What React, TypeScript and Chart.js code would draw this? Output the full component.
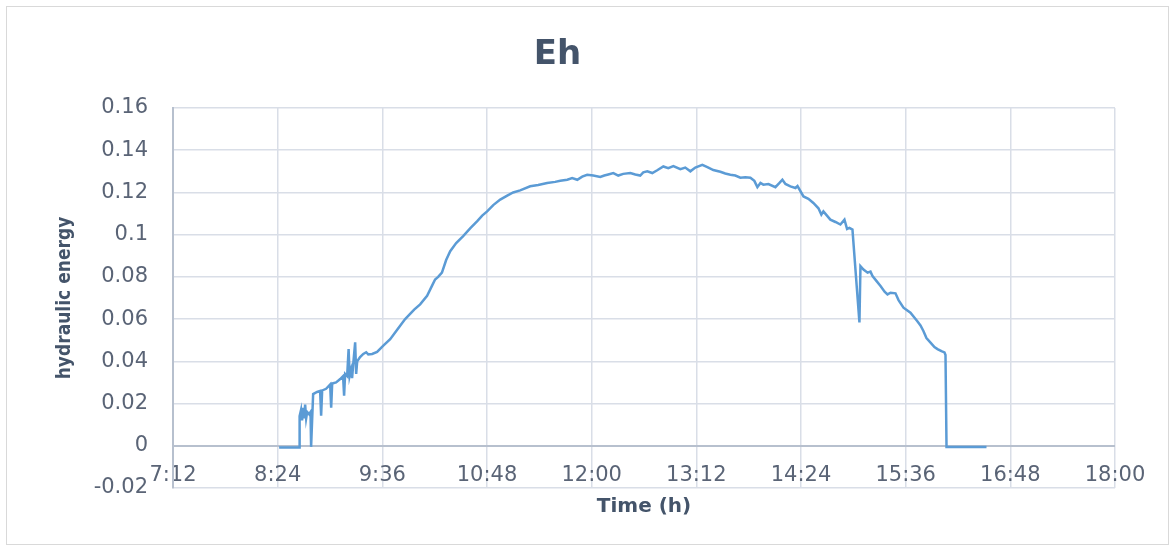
import React, { useEffect, useRef } from "react";
import { Chart, registerables } from "chart.js";

Chart.register(...registerables);

const TITLE = "Eh";
const Y_TITLE = "hydraulic energy";
const X_TITLE = "Time (h)";

// x axis in minutes since midnight (7:12 .. 18:00, ticks every 72 min)
const X_MIN = 432;
const X_MAX = 1080;
const X_STEP = 72;
const Y_MIN = -0.02;
const Y_MAX = 0.16;
const Y_STEP = 0.02;

const timeMinutes = [
  505, 518.7, 519.1, 520.1, 520.8, 521.5, 522.2, 522.9, 523.6, 524.3, 525.6, 526.6, 527.0, 527.6,
  528.4, 531.1, 533.2, 533.9, 534.6, 537.3, 540.1, 540.8, 541.5, 544.2, 547.0, 549.0, 549.7, 550.4,
  551.8, 552.8, 553.5, 554.5, 555.2, 555.9, 557.3, 558.0, 558.7, 560.7, 562.9, 564.9, 566.3, 569.0,
  572.4, 576.5, 581.4, 586.2, 591.7, 597.9, 602.0, 606.8, 610.3, 612.3, 614.4, 617.0, 619.9, 622.7,
  626.8, 631.6, 636.4, 641.3, 644.7, 648.1, 652.3, 657.1, 661.9, 666.0, 670.8, 677.7, 683.2, 689.4,
  694.9, 698.4, 703.2, 706.6, 710.1, 713.5, 716.9, 721.1, 725.9, 728.7, 731.4, 734.9, 738.3, 741.7,
  746.6, 750.0, 753.4, 755.5, 758.3, 761.7, 765.1, 769.3, 772.7, 776.2, 781.0, 784.4, 787.9, 791.3,
  796.1, 799.6, 803.7, 808.5, 811.9, 815.4, 818.8, 822.3, 825.7, 829.2, 831.9, 834.0, 836.1, 838.1,
  841.6, 846.4, 849.2, 851.2, 853.3, 856.7, 860.2, 861.6, 865.7, 869.1, 872.5, 876.0, 878.0, 879.4,
  884.2, 887.7, 891.1, 893.9, 895.7, 897.3, 899.4, 904.2, 904.9, 907.0, 909.8, 911.8, 913.2, 916.0,
  918.7, 921.5, 923.5, 925.6, 929.0, 931.1, 934.5, 939.3, 943.9, 946.2, 948.2, 950.3, 953.1, 955.8,
  957.9, 960.6, 962.7, 963.4, 964.1, 991.6,
];

const energy = [
  -0.0008, -0.0008, 0.014, 0.017, 0.012, 0.018, 0.013, 0.0195, 0.013, 0.016, 0.015, 0.016, -0.0005, -0.0005,
  0.0245, 0.0255, 0.026, 0.0143, 0.0262, 0.027, 0.029, 0.018, 0.0295, 0.03, 0.0316, 0.033, 0.0237, 0.034,
  0.033, 0.0458, 0.033, 0.036, 0.032, 0.038, 0.049, 0.034, 0.04, 0.042, 0.0435, 0.0443, 0.0433, 0.0435,
  0.0445, 0.0473, 0.0505, 0.055, 0.06, 0.0645, 0.067, 0.071, 0.076, 0.0788, 0.08, 0.082, 0.088, 0.0922,
  0.096, 0.0993, 0.103, 0.1064, 0.109, 0.111, 0.114, 0.1166, 0.1185, 0.12, 0.121, 0.1229, 0.1235, 0.1245,
  0.125, 0.1255, 0.126, 0.1268, 0.126, 0.1275, 0.1284, 0.128, 0.1273, 0.128, 0.1285, 0.1292, 0.128, 0.1288,
  0.1292, 0.1285, 0.128, 0.1295, 0.13, 0.1292, 0.1305, 0.1323, 0.1315, 0.1325, 0.131, 0.1318, 0.13, 0.1318,
  0.1331, 0.132, 0.1306, 0.1298, 0.129, 0.1284, 0.128, 0.127, 0.1272, 0.127, 0.1255, 0.1225, 0.1245, 0.1237,
  0.124, 0.1225, 0.1245, 0.126, 0.124, 0.1229, 0.1221, 0.123, 0.1181, 0.117, 0.115, 0.1125, 0.1095, 0.111,
  0.1071, 0.106, 0.1048, 0.1071, 0.1027, 0.1032, 0.1024, 0.0584, 0.0851, 0.0835, 0.082, 0.0825, 0.0804, 0.078,
  0.0757, 0.073, 0.0717, 0.0725, 0.0722, 0.069, 0.0654, 0.063, 0.0591, 0.057, 0.0544, 0.051, 0.0489, 0.0468,
  0.0458, 0.0448, 0.0442, 0.043, -0.0006, -0.0006,
];

const LINE_COLOR = "#5b9bd5";
const GRID_COLOR = "#d9dee7";
const AXIS_COLOR = "#b7c0ce";
const TEXT_COLOR = "#5a6476";
const TITLE_COLOR = "#44546a";
const FONT = "'DejaVu Sans', sans-serif";

function fmtTime(v: number): string {
  const h = Math.floor(v / 60);
  const m = Math.round(v - h * 60);
  return `${h}:${m < 10 ? "0" + m : m}`;
}

export default function App() {
  const canvasRef = useRef<HTMLCanvasElement | null>(null);

  useEffect(() => {
    if (!canvasRef.current) return;
    const points = timeMinutes.map((t, i) => ({ x: t, y: energy[i] }));
    const chart = new Chart(canvasRef.current, {
      type: "line",
      data: {
        datasets: [
          {
            data: points,
            borderColor: LINE_COLOR,
            borderWidth: 2.5,
            pointRadius: 0,
            tension: 0,
            fill: false,
          },
        ],
      },
      options: {
        animation: false,
        responsive: false,
        maintainAspectRatio: false,
        layout: { padding: { left: 0, right: 60, top: 0, bottom: 62 } },
        plugins: {
          legend: { display: false },
          tooltip: { enabled: false },
          title: {
            display: true,
            text: TITLE,
            color: TITLE_COLOR,
            font: { family: FONT, size: 34, weight: "bold" },
            padding: { top: 34.6, bottom: 32.6 },
          },
        },
        scales: {
          x: {
            type: "linear",
            position: { y: 0 },
            min: X_MIN,
            max: X_MAX,
            afterFit: (scale: any) => {
              scale.height = 80;
            },
            ticks: {
              stepSize: X_STEP,
              padding: 17,
              color: TEXT_COLOR,
              font: { family: FONT, size: 21 },
              maxRotation: 0,
              autoSkip: false,
              callback: (v: any) => fmtTime(Number(v)),
            },
            grid: { color: GRID_COLOR, lineWidth: 1.5, drawTicks: false },
            border: { display: false },
            title: {
              display: true,
              text: X_TITLE,
              color: TITLE_COLOR,
              font: { family: FONT, size: 20, weight: "bold" },
              padding: { top: 0, bottom: 7 },
            },
          },
          y: {
            type: "linear",
            min: Y_MIN,
            max: Y_MAX,
            afterFit: (scale: any) => {
              scale.width = 173;
            },
            ticks: {
              stepSize: Y_STEP,
              padding: 25,
              color: TEXT_COLOR,
              font: { family: FONT, size: 21 },
              callback: (v: any) => String(Number(Number(v).toFixed(2))),
            },
            grid: {
              color: (ctx: any) =>
                ctx.tick && Math.abs(ctx.tick.value) < 1e-9 ? AXIS_COLOR : GRID_COLOR,
              lineWidth: (ctx: any) => (ctx.tick && Math.abs(ctx.tick.value) < 1e-9 ? 2 : 1.5),
              drawTicks: false,
            },
            border: { display: true, color: AXIS_COLOR, width: 2 },
            title: {
              display: true,
              text: Y_TITLE,
              color: TITLE_COLOR,
              font: { family: "'DejaVu Sans Condensed', 'DejaVu Sans', sans-serif", size: 19, weight: "bold" },
              padding: { top: 53.6, bottom: 0 },
            },
          },
        },
      },
    });
    return () => chart.destroy();
  }, []);

  return (
    <div
      style={{
        position: "absolute",
        left: 0,
        top: 0,
        width: 1175,
        height: 550,
        background: "#ffffff",
        overflow: "hidden",
      }}
    >
      <div
        style={{
          position: "absolute",
          left: 6,
          top: 6,
          width: 1163,
          height: 539,
          border: "1.5px solid #d9d9d9",
          boxSizing: "border-box",
        }}
      />
      <canvas
        ref={canvasRef}
        width={1175}
        height={550}
        style={{ position: "absolute", left: 0, top: 0, width: 1175, height: 550 }}
      />
    </div>
  );
}
